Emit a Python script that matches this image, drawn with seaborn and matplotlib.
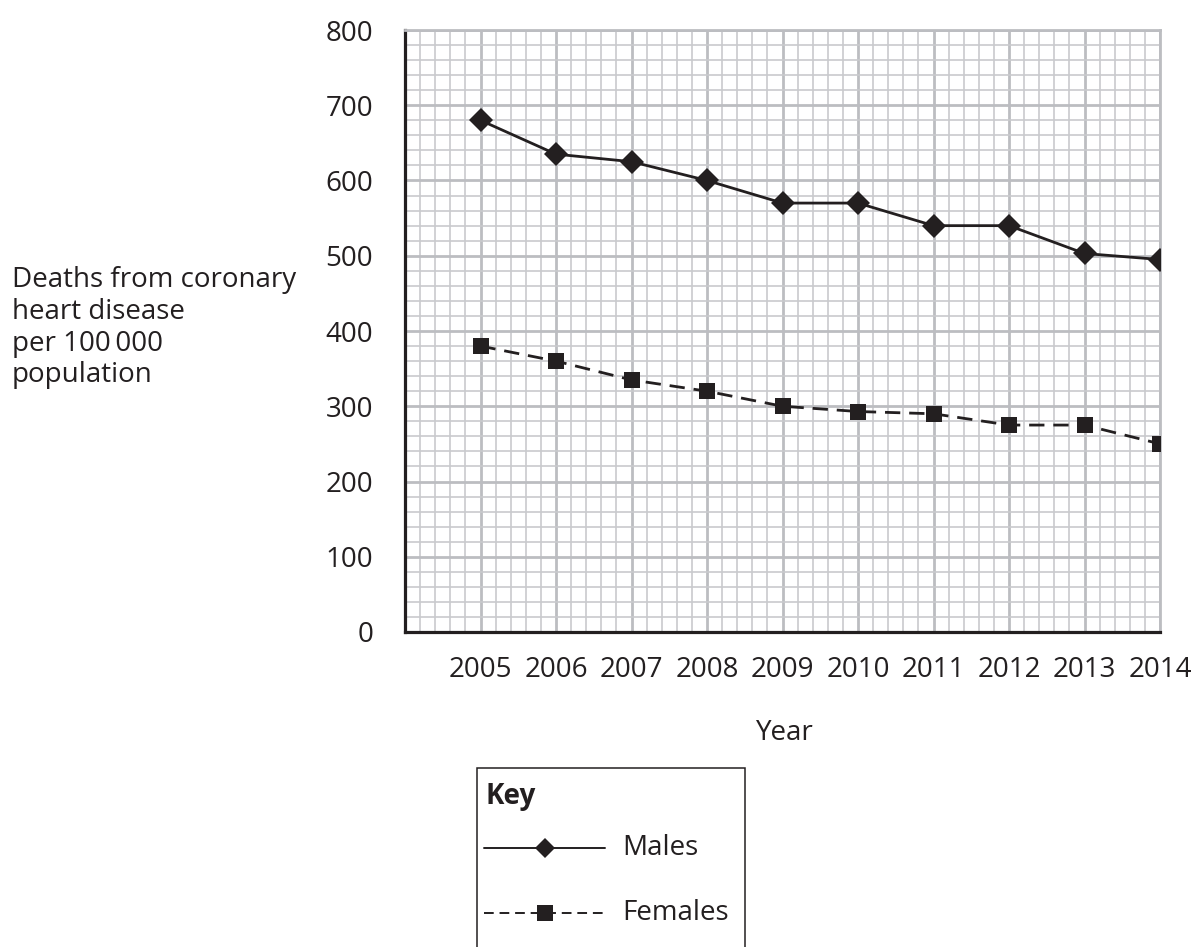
import matplotlib
matplotlib.use("Agg")
import matplotlib.pyplot as plt
from matplotlib.ticker import MultipleLocator, FixedLocator
from matplotlib.lines import Line2D
from matplotlib.patches import Rectangle
import seaborn as sns
import pandas as pd

# data
years = [2005, 2006, 2007, 2008, 2009, 2010, 2011, 2012, 2013, 2014]
males = [680, 635, 625, 600, 570, 570, 540, 540, 503, 495]
females = [380, 360, 335, 320, 300, 293, 290, 275, 275, 250]
x_ticks = [2004, 2005, 2006, 2007, 2008, 2009, 2010, 2011, 2012, 2013, 2014]
x_labels = [""] + [str(y) for y in years]
y_ticks = [0, 100, 200, 300, 400, 500, 600, 700, 800]

INK = "#231f20"
MAJOR = "#bcbdc1"
MINOR = "#c9cacd"
FS = 20

sns.set_theme(style="white")
plt.rcParams["font.family"] = ["Open Sans", "DejaVu Sans"]

df = pd.DataFrame({
    "Year": years * 2,
    "Deaths": males + females,
    "Sex": ["Males"] * len(years) + ["Females"] * len(years),
})

fig = plt.figure(figsize=(11.96, 9.47), dpi=100)
ax = fig.add_axes([405 / 1196, 1 - 632 / 947, (1160 - 405) / 1196, (632 - 30) / 947])

sns.lineplot(data=df, x="Year", y="Deaths", hue="Sex", style="Sex",
             palette={"Males": INK, "Females": INK},
             markers={"Males": "D", "Females": "s"},
             dashes={"Males": "", "Females": (5.5, 3.2)},
             markersize=12, linewidth=2.0, markeredgewidth=0,
             ax=ax, legend=False, zorder=5)

ax.set_xlim(2004, 2014)
ax.set_ylim(0, 800)
ax.xaxis.set_major_locator(FixedLocator(x_ticks))
ax.set_xticklabels(x_labels)
ax.yaxis.set_major_locator(FixedLocator(y_ticks))
ax.xaxis.set_minor_locator(MultipleLocator(0.2))
ax.yaxis.set_minor_locator(MultipleLocator(20))

ax.grid(which="minor", color=MINOR, linewidth=1.2)
ax.grid(which="major", color=MAJOR, linewidth=2.0)
ax.set_axisbelow(True)

for side in ["left", "bottom"]:
    ax.spines[side].set_color(INK)
    ax.spines[side].set_linewidth(2.3)
for side in ["top", "right"]:
    ax.spines[side].set_color(MAJOR)
    ax.spines[side].set_linewidth(2.0)

ax.tick_params(which="major", direction="out", length=11, width=1.6, color=INK,
               labelsize=FS, labelcolor=INK)
ax.tick_params(axis="y", pad=12)
ax.tick_params(axis="x", pad=6)
ax.tick_params(which="minor", length=0)
ax.set_xlabel("")
ax.set_ylabel("")

fig.text(785 / 1196, 1 - 733 / 947, "Year", ha="center", va="center",
         fontsize=FS, color=INK)
fig.text(12 / 1196, 1 - 266 / 947,
         "Deaths from coronary\nheart disease\nper 100\u2009000\npopulation",
         ha="left", va="top", fontsize=FS, color=INK, linespacing=1.18)

# key box, open at the bottom edge
fig.add_artist(Rectangle((477 / 1196, -0.05), (745 - 477) / 1196,
                         (1 - 768 / 947) + 0.05, transform=fig.transFigure,
                         facecolor="none", edgecolor=INK, linewidth=1.1))
fig.text(485 / 1196, 1 - 796 / 947, "Key", ha="left", va="center",
         fontsize=FS, fontweight="bold", color=INK)
fig.add_artist(Line2D([484 / 1196, 605 / 1196], [1 - 848 / 947] * 2,
                      transform=fig.transFigure, color=INK, linewidth=1.4))
fig.add_artist(Line2D([545 / 1196], [1 - 848 / 947], transform=fig.transFigure,
                      marker="D", markersize=10.5, color=INK, markeredgewidth=0))
fig.add_artist(Line2D([484 / 1196, 605 / 1196], [1 - 913 / 947] * 2,
                      transform=fig.transFigure, color=INK, linewidth=1.4,
                      dashes=(5, 3)))
fig.add_artist(Line2D([545 / 1196], [1 - 913 / 947], transform=fig.transFigure,
                      marker="s", markersize=11, color=INK, markeredgewidth=0))
fig.text(622 / 1196, 1 - 848 / 947, "Males", ha="left", va="center",
         fontsize=FS, color=INK)
fig.text(622 / 1196, 1 - 913 / 947, "Females", ha="left", va="center",
         fontsize=FS, color=INK)

fig.savefig("out.png", dpi=100, facecolor="white")
